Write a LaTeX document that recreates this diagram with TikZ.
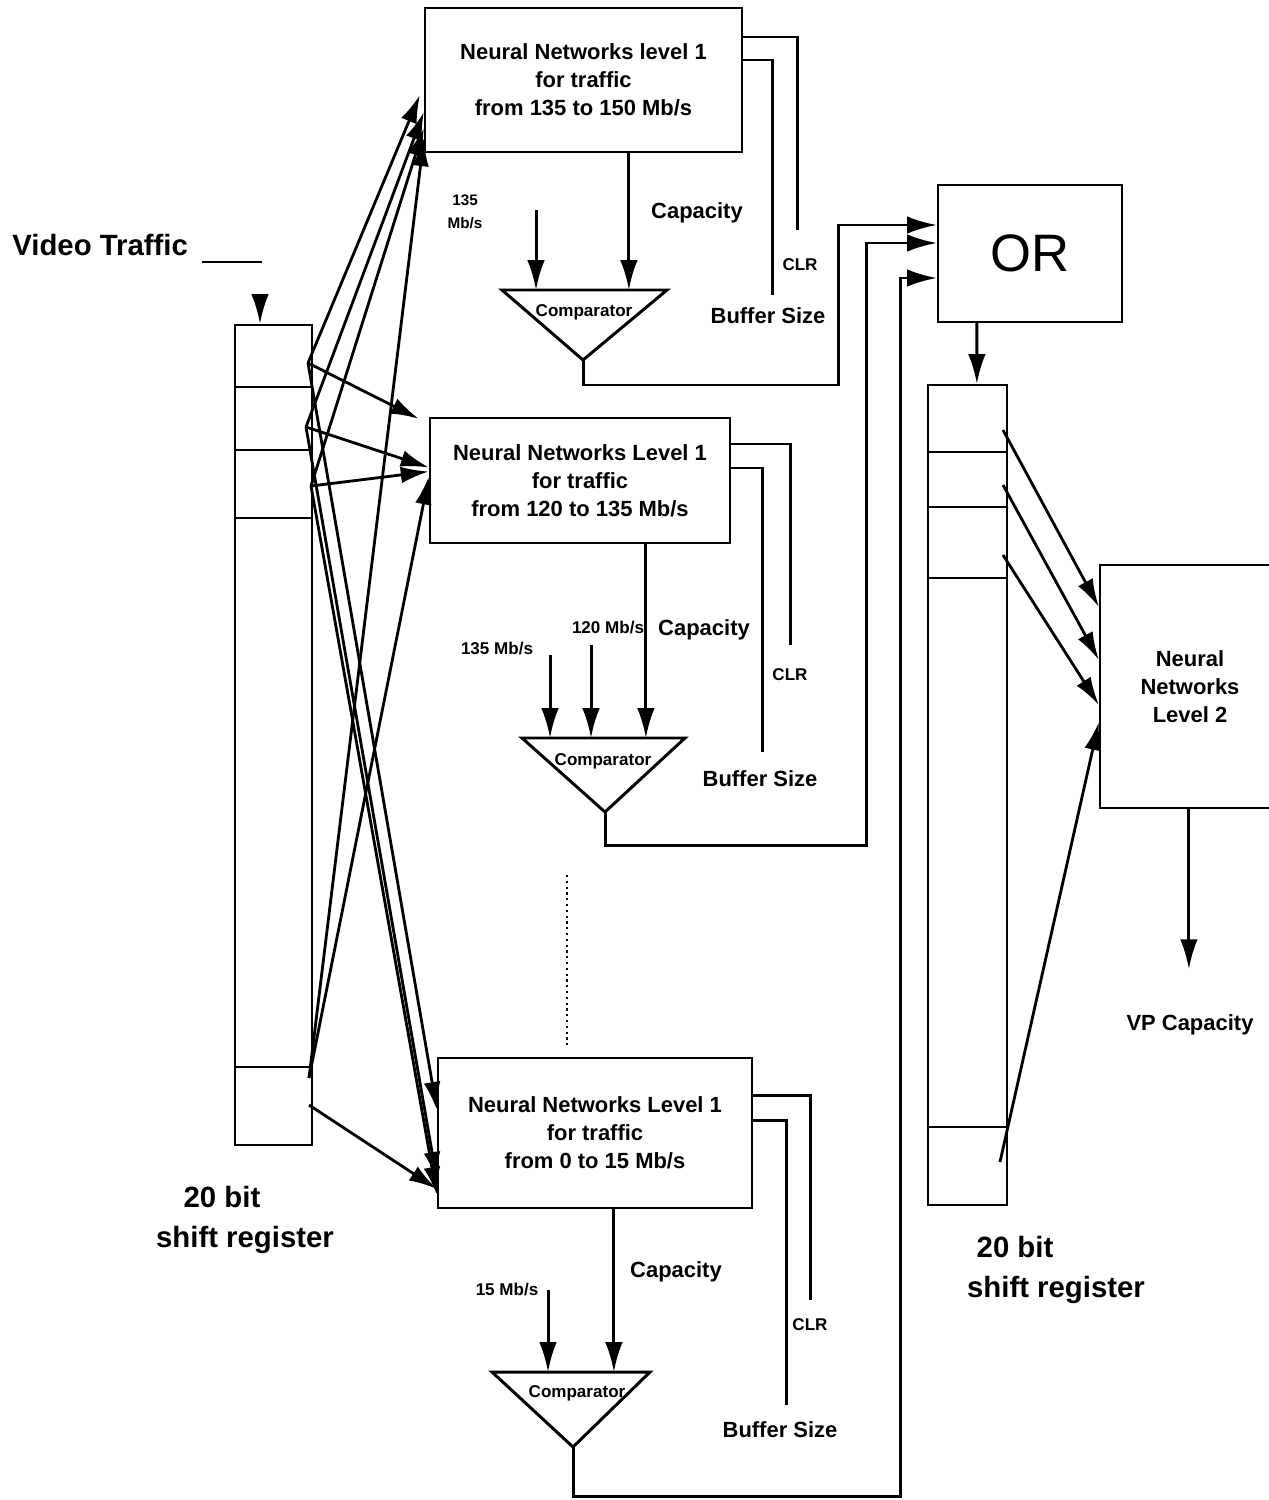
\documentclass[tikz,border=0pt]{standalone}
\usepackage{fontspec}
\setmainfont{Liberation Sans}
\usetikzlibrary{arrows.meta,calc}

\newcommand\boxfont{\fontsize{12.5}{16}\selectfont\bfseries}
\newcommand\smallfont{\fontsize{9.7}{13}\selectfont\bfseries}
\newcommand\largefont{\fontsize{16.7}{22.7}\selectfont\bfseries}

\tikzset{
  nnbox/.style={draw, line width=1.3pt, align=center, font=\boxfont, inner sep=0pt},
  regbox/.style={draw, line width=1.3pt, inner sep=0pt},
  wire/.style={line width=1.7pt},
  arr/.style={wire, -{Latex[length=17pt,width=10pt]}},
  fan/.style={line width=1.6pt, -{Latex[length=16pt,width=9.5pt]}},
  lbl/.style={font=\boxfont, inner sep=0pt},
  smalllbl/.style={font=\smallfont, inner sep=0pt, align=center},
  biglbl/.style={font=\largefont, inner sep=0pt},
}

\begin{document}
\begin{tikzpicture}[x=0.02cm, y=-0.02cm]
    \useasboundingbox (0,0) rectangle (1268,1500);

    % level 1 networks
    \node[nnbox, minimum width=6.34cm, minimum height=2.88cm] (nn1) at (583.5,80) {Neural Networks level 1\\for  traffic\\from 135 to 150 Mb/s};
    \node[nnbox, minimum width=6cm, minimum height=2.5cm] (nn2) at (580,480.5) {Neural Networks Level 1\\for  traffic\\from 120 to 135 Mb/s};
    \node[nnbox, minimum width=6.28cm, minimum height=3cm] (nn3) at (595,1133) {Neural Networks Level 1\\for traffic\\from 0 to 15 Mb/s};

    % OR gate and level 2 network
    \node[nnbox, font=\fontsize{30}{30}\selectfont, minimum width=3.68cm, minimum height=2.74cm] (orbox) at (1030,253.5) {OR};
    \node[nnbox, minimum width=3.6cm, minimum height=4.86cm] (nnlev2) at (1190,686.5) {Neural\\Networks\\Level 2};

    % shift registers
    \node[regbox, minimum width=1.54cm, minimum height=16.4cm] (lreg) at (273.5,735) {};
    \foreach \yy in {387,450,518,1067} \draw[line width=1.3pt] (235,\yy) -- (312,\yy);
    \node[regbox, minimum width=1.58cm, minimum height=16.4cm] (rreg) at (967.5,795) {};
    \foreach \yy in {452,507,578,1127} \draw[line width=1.3pt] (928,\yy) -- (1007,\yy);

    \node[biglbl, anchor=base west] (video) at (12,256) {Video Traffic\hspace{8pt}\rule[-4pt]{34pt}{1.4pt}};
    \coordinate (vin) at (260,298);
    \draw[arr] (vin) -- (lreg.north -| vin);

    \node[biglbl] (lregA) at (222,1197) {20 bit};
    \node[biglbl] (lregB) at (245,1240) {shift register};
    \node[biglbl] (rregA) at (1015,1247) {20 bit};
    \node[biglbl] (rregB) at (1056,1290) {shift register};

    % comparator 1
    \coordinate (c1l) at (502,290);
    \coordinate (c1r) at (667,290);
    \coordinate (c1a) at (583,360);
    \draw[wire] (c1l) -- (c1r) -- (c1a) -- cycle;
    \node[smalllbl] (cmp1) at (584,312) {Comparator};
    \coordinate (cap1) at ($(nn1.south west)+(205,0)$);
    \draw[arr] (cap1) -- (cap1 |- c1l);
    \node[lbl] (capl1) at (697,213) {Capacity};
    \node[smalllbl, font=\fontsize{8.7}{13}\selectfont\bfseries] (ref1) at (465,212) {135\\Mb/s};
    \coordinate (ref1s) at (536,210);
    \draw[arr] (ref1s) -- (ref1s |- c1l);
    \coordinate (clr1) at (797,230);
    \coordinate (buf1) at (772,295);
    \draw[wire] ($(nn1.east)+(0,-43)$) -| (clr1);
    \draw[wire] ($(nn1.east)+(0,-20)$) -| (buf1);
    \node[smalllbl] (clrl1) at (800,265) {CLR};
    \node[lbl] (bufl1) at (768,316) {Buffer Size};
    \coordinate (orin1) at ($(orbox.west)+(0,-28.5)$);
    \coordinate (c1turn) at (838,385);
    \draw[arr] (c1a) |- (c1turn) |- (orin1);

    % comparator 2
    \coordinate (c2l) at (522,738);
    \coordinate (c2r) at (685,738);
    \coordinate (c2a) at (605,812);
    \draw[wire] (c2l) -- (c2r) -- (c2a) -- cycle;
    \node[smalllbl] (cmp2) at (603,761) {Comparator};
    \coordinate (cap2) at ($(nn2.south west)+(217,0)$);
    \draw[arr] (cap2) -- (cap2 |- c2l);
    \node[lbl] (capl2) at (704,630) {Capacity};
    \node[smalllbl] (ref2) at (497,648) {135 Mb/s};
    \node[smalllbl] (ref3) at (608,627) {120 Mb/s};
    \coordinate (ref2s) at (550,655);
    \coordinate (ref3s) at (591,645);
    \draw[arr] (ref2s) -- (ref2s |- c2l);
    \draw[arr] (ref3s) -- (ref3s |- c2l);
    \coordinate (clr2) at (790,645);
    \coordinate (buf2) at (762,752);
    \draw[wire] ($(nn2.east)+(0,-36.5)$) -| (clr2);
    \draw[wire] ($(nn2.east)+(0,-12.5)$) -| (buf2);
    \node[smalllbl] (clrl2) at (790,675) {CLR};
    \node[lbl] (bufl2) at (760,779) {Buffer Size};
    \coordinate (orin2) at ($(orbox.west)+(0,-10.5)$);
    \coordinate (c2turn) at (866,845);
    \draw[arr] (c2a) |- (c2turn) |- (orin2);

    % dots between the level 1 networks
    \draw[dotted, line width=1.3pt] (567,875) -- (567,1048);

    % comparator 3
    \coordinate (c3l) at (492,1372);
    \coordinate (c3r) at (650,1372);
    \coordinate (c3a) at (573,1447);
    \draw[wire] (c3l) -- (c3r) -- (c3a) -- cycle;
    \node[smalllbl] (cmp3) at (577,1393) {Comparator};
    \coordinate (cap3) at ($(nn3.south west)+(177,0)$);
    \draw[arr] (cap3) -- (cap3 |- c3l);
    \node[lbl] (capl3) at (676,1272) {Capacity};
    \node[smalllbl] (ref4) at (507,1289) {15 Mb/s};
    \coordinate (ref4s) at (548,1290);
    \draw[arr] (ref4s) -- (ref4s |- c3l);
    \coordinate (clr3) at (810,1300);
    \coordinate (buf3) at (786,1405);
    \draw[wire] ($(nn3.east)+(0,-38)$) -| (clr3);
    \draw[wire] ($(nn3.east)+(0,-13)$) -| (buf3);
    \node[smalllbl] (clrl3) at (810,1325) {CLR};
    \node[lbl] (bufl3) at (780,1430) {Buffer Size};
    \coordinate (orin3) at ($(orbox.west)+(0,24.5)$);
    \coordinate (c3turn) at (900,1496);
    \draw[arr] (c3a) |- (c3turn) |- (orin3);

    % OR into right register, register into level 2
    \draw[arr] ($(orbox.south west)+(40,0)$) -- ($(rreg.north west)+(50,0)$);
    \coordinate (r1) at (1003,430);
    \coordinate (r2) at (1003,485);
    \coordinate (r3) at (1003,555);
    \coordinate (r4) at (1000,1162);
    \draw[fan] (r1) -- ($(nnlev2.west)+(0,-79.5)$);
    \draw[fan] (r2) -- ($(nnlev2.west)+(0,-26.5)$);
    \draw[fan] (r3) -- ($(nnlev2.west)+(0,18.5)$);
    \draw[fan] (r4) -- ($(nnlev2.west)+(0,35.5)$);
    \coordinate (vpout) at ($(nnlev2.south west)+(90,0)$);
    \draw[arr] (vpout) -- ++(0,160);
    \node[lbl] (vplbl) at (1190,1025) {VP Capacity};

    % left register taps to the level 1 networks
    \coordinate (s1) at (308,363);
    \coordinate (s2) at (306,427);
    \coordinate (s3) at (311,486);
    \coordinate (s4) at (309,1078);
    \coordinate (s5) at (309,1105);
    \draw[fan] (s1) -- ($(nn1.west)+(-4,15)$);
    \draw[fan] (s2) -- ($(nn1.west)+(0,32)$);
    \draw[fan] (s3) -- ($(nn1.west)+(0,48)$);
    \draw[fan] (s4) -- ($(nn1.west)+(0,58)$);
    \draw[fan] (s1) -- ($(nn2.north west)+(-10,2)$);
    \draw[fan] (s2) -- ($(nn2.west)+(0,-13)$);
    \draw[fan] (s3) -- ($(nn2.west)+(0,-9)$);
    \draw[fan] (s4) -- ($(nn2.west)+(0,-4)$);
    \draw[fan] (s1) -- ($(nn3.west)+(0,-23)$);
    \draw[fan] (s2) -- ($(nn3.west)+(0,47)$);
    \draw[fan] (s3) -- ($(nn3.west)+(0,62)$);
    \draw[fan] (s5) -- ($(nn3.west)+(0,56)$);
\end{tikzpicture}
\end{document}
